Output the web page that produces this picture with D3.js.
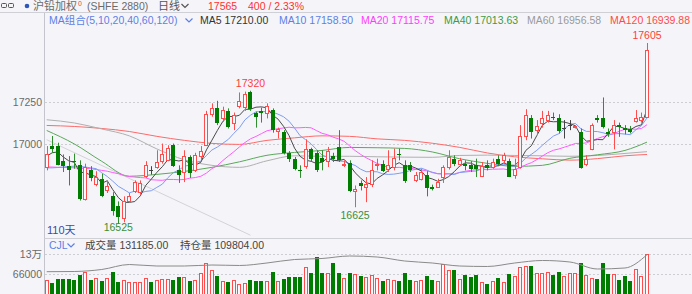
<!DOCTYPE html>
<html>
<head>
<meta charset="utf-8">
<script src="https://cdn.jsdelivr.net/npm/d3@7"></script>
<style>
body { margin: 0; background: #f5f5f9; }
text { font-family: "Liberation Sans", "Noto Sans CJK SC", sans-serif; }
</style>
</head>
<body>
<div id="chart"></div>
<script>
// daily candles, 110 days
var opens = [16865,16990,16990,16900,16870,16900,16880,16675,16845,16765,16795,16725,16690,16635,16560,16665,16720,16715,16810,16845,
  16865,16900,16905,16995,16850,16835,16925,16845,16930,16995,17180,17220,17160,17200,17125,17230,17225,17310,17185,17200,
  17185,17205,17080,17075,16950,16915,16850,16870,16970,16950,16920,16900,16930,16985,16875,16890,16720,16770,16745,16765,
  16875,16885,16855,16865,16940,16880,16875,16785,16795,16820,16745,16745,16805,16865,16910,16885,16885,16875,16875,16810,
  16875,16865,16910,16905,16900,16820,16865,17050,17160,17085,17125,17145,17165,17160,17095,17115,17105,17075,16885,16975,
  17155,17160,17075,17075,17115,17095,17090,17140,17145,17165];
var highs = [16990,17050,17010,16940,16930,16945,16905,16885,16870,16840,16825,16785,16715,16660,16690,16710,16785,16785,16900,16870,
  16965,17005,16995,17005,16875,16965,16935,16950,16990,17200,17245,17260,17225,17215,17190,17310,17315,17320,17195,17220,
  17245,17215,17100,17085,16960,16925,16875,17030,16980,16965,16965,16985,16950,17085,16905,16905,16755,16785,16805,16905,
  16915,16905,16965,16975,16975,16905,16895,16835,16855,16840,16760,16795,16875,16965,16935,16920,16905,16900,16915,16895,
  16905,16915,16935,16950,16915,16915,17115,17210,17175,17145,17200,17200,17190,17180,17145,17145,17115,17095,16935,17125,
  17175,17280,17095,17145,17130,17115,17110,17205,17190,17605];
var lows = [16845,16950,16875,16835,16755,16855,16665,16665,16780,16750,16685,16710,16575,16525,16535,16650,16710,16700,16800,16820,
  16855,16885,16900,16865,16770,16775,16800,16835,16905,16990,17165,17115,17135,17095,17085,17215,17200,17200,17100,17130,
  17155,17070,17035,16940,16895,16845,16800,16855,16895,16835,16845,16865,16895,16895,16865,16715,16625,16725,16655,16745,
  16845,16835,16835,16845,16905,16770,16835,16775,16785,16690,16725,16740,16770,16850,16870,16870,16845,16835,16805,16805,
  16845,16855,16870,16885,16805,16795,16855,17025,17035,17055,17100,17130,17145,17065,17035,17085,17095,16855,16870,16965,
  17130,17095,17045,16970,17045,17060,17065,17130,17130,17160];
var closes = [16940,16970,16880,16870,16850,16895,16675,16865,16800,16805,16695,16750,16600,16565,16660,16695,16775,16770,16880,16845,
  16895,16945,16980,16870,16815,16930,16830,16935,16960,17180,17220,17125,17205,17105,17175,17260,17300,17210,17165,17185,
  17230,17085,17090,16950,16910,16855,16840,16975,16915,16845,16895,16960,16910,16905,16885,16720,16735,16750,16765,16850,
  16885,16840,16875,16920,16935,16780,16845,16815,16835,16740,16735,16775,16865,16925,16885,16905,16870,16855,16855,16870,
  16860,16895,16885,16935,16805,16855,17050,17175,17075,17110,17160,17175,17155,17080,17095,17115,17110,16860,16915,17115,
  17145,17105,17060,17115,17105,17085,17075,17155,17165,17565];
var volumes = [48000,39500,51200,51200,50100,48000,64000,72500,48000,53300,45900,53300,74700,40500,48000,42700,42700,40500,53300,42700,
  48000,50100,50100,48000,58700,58700,45900,48000,71500,103500,80000,60800,45900,40500,48000,35200,39500,48000,45900,45900,
  45900,72500,45900,50100,58700,58700,58700,88500,69300,122700,69300,69300,101300,69300,53300,71500,66100,60800,56500,64000,
  53300,45900,50100,48000,45900,69300,48000,45900,48000,61900,48000,45900,98100,80000,80000,50100,64000,56500,64000,40500,
  35200,45900,55500,40500,66100,61900,90700,92800,92800,69300,69300,74700,64000,72500,61900,69300,69300,101300,64000,55500,
  50100,101300,66100,66100,48000,61900,44800,82100,61900,131185];

// first days of the short averages (window starts before the visible range)
var ma5Lead = [16930,16950,16955,16925];
var ma10Lead = [16860,16860,16862,16865,16868,16870,16868,16865,16860];
var ma20Lead = [16865,16865,16863,16863,16862,16860,16858,16857,16855,16850,16845,16840,16832,16825,16815,16808,16805,16802,16800];

// long averages and open interest, read every 5 days
var sampleIdx = [0,5,10,15,20,25,30,35,40,45,50,55,60,65,70,75,80,85,90,95,100,105,109];
var ma40 = [17083,17003,16899,16810,16821,16839,16863,16896,16935,16952,16964,16982,16980,16976,16955,16914,16887,16869,16875,16917,16938,16964,17013.63];
var ma60 = [17147,17128,17092,17051,16973,16908,16875,16863,16902,16932,16929,16929,16926,16924,16923,16934,16936,16934,16932,16929,16934,16946,16956.58];
var ma120 = [17113,17107,17095,17077,17048,17024,17006,17000,17024,17039,17051,17048,17033,17024,17007,16982,16949,16926,16914,16906,16915,16932,16939.88];
var openInterest = [93010,93210,95190,100120,98640,98640,99630,99140,101610,105060,106050,108520,107530,103580,101610,98640,98150,101610,104080,102590,95680,96670,109804];

// drawn trend line (day index, price)
var trendIdx = [0, 37];
var trendPrice = [17028, 16458];

var priceTicks = [17000, 17250];
var volTicks = [66000, 130000];
var volTickLabels = ["66000", "13万"];
var peakIdx = [37, 109];
var troughIdx = [13, 56];

var maNames = ["MA5", "MA10", "MA20", "MA40", "MA60", "MA120"];
var maLast = ["17210.00", "17158.50", "17115.75", "17013.63", "16956.58", "16939.88"];
var maColors = ["#333333", "#5d7fe6", "#ff3cff", "#3f9a3f", "#9a9a9a", "#ff4a4a"];
var maLineColors = ["#4a4a4a", "#7d9cf2", "#ff5cff", "#5aa85a", "#b0b0b0", "#ff6a6a"];
var maLegendX = [200, 279, 361, 444, 527, 610];

const width = 692, height = 294;
const n = closes.length;
const RED = "#ff4d4d", GREEN = "#007d00", BG = "#f5f5f9";

var svg = d3.select("#chart").append("svg")
  .attr("width", width)
  .attr("height", height);

svg.append("rect").attr("width", width).attr("height", height).attr("fill", BG);

var x = d3.scaleLinear().domain([0, n - 1]).range([46.7, 647]);
var y = d3.scaleLinear().domain([d3.min(lows), d3.max(highs)]).range([224, 43]);
var yv = d3.scaleLinear().domain([0, d3.max(volumes)]).range([295, 254]);
var yoi = d3.scaleLinear().domain([70000, 110000]).range([295, 254.5]);

var candles = d3.range(n).map(function(i) {
  return {i: i, o: opens[i], h: highs[i], l: lows[i], c: closes[i], v: volumes[i]};
});

// frame lines
svg.append("line").attr("x1", 0).attr("x2", width).attr("y1", 12.5).attr("y2", 12.5).attr("stroke", "#cfcfd6");
svg.append("line").attr("x1", 44.5).attr("x2", 44.5).attr("y1", 13).attr("y2", height).attr("stroke", "#c4c4cc");
svg.append("line").attr("x1", 44.5).attr("x2", width).attr("y1", 238.5).attr("y2", 238.5).attr("stroke", "#cfcfd6");

// grid
svg.selectAll("line.pgrid").data(priceTicks).enter().append("line")
  .attr("x1", 45).attr("x2", width)
  .attr("y1", d => Math.round(y(d)) + 0.5).attr("y2", d => Math.round(y(d)) + 0.5)
  .attr("stroke", "#cdcdd4").attr("stroke-dasharray", "2,2");
svg.selectAll("line.vgrid").data(volTicks).enter().append("line")
  .attr("x1", 45).attr("x2", width)
  .attr("y1", d => Math.round(yv(d)) + 0.5).attr("y2", d => Math.round(yv(d)) + 0.5)
  .attr("stroke", "#cdcdd4").attr("stroke-dasharray", "2,2");

// axes labels
var yAxis = svg.append("g")
  .attr("transform", "translate(42,0)")
  .call(d3.axisLeft(y).tickValues(priceTicks).tickSize(0).tickPadding(0).tickFormat(d3.format("d")));
yAxis.select(".domain").remove();
yAxis.selectAll("text").attr("fill", "#6a6a6a").style("font-size", "10.5px").style("font-family", "Liberation Sans");

var vAxis = svg.append("g")
  .attr("transform", "translate(42,0)")
  .call(d3.axisLeft(yv).tickValues(volTicks).tickSize(0).tickPadding(0).tickFormat((d, k) => volTickLabels[k]));
vAxis.select(".domain").remove();
vAxis.selectAll("text").attr("fill", "#6a6a6a").style("font-size", "10.5px").style("font-family", "Liberation Sans, Noto Sans CJK SC");

// clip for main panel
svg.append("clipPath").attr("id", "mainClip")
  .append("rect").attr("x", 45).attr("y", 13).attr("width", width - 45).attr("height", 225);

var main = svg.append("g").attr("clip-path", "url(#mainClip)");

// trend line
main.append("line")
  .attr("x1", x(trendIdx[0])).attr("y1", y(trendPrice[0]))
  .attr("x2", x(trendIdx[1])).attr("y2", y(trendPrice[1]))
  .attr("stroke", "#d4d4d8").attr("stroke-width", 1);

// moving averages
function movingAvg(lead, period) {
  return d3.range(n).map(function(i) {
    if (i < period - 1) return lead[i];
    return d3.mean(closes.slice(i - period + 1, i + 1));
  });
}
var ma5 = movingAvg(ma5Lead, 5);
var ma10 = movingAvg(ma10Lead, 10);
var ma20 = movingAvg(ma20Lead, 20);

var line = d3.line().x(d => x(d[0])).y(d => y(d[1]));
var smooth = d3.line().x(d => x(d[0])).y(d => y(d[1])).curve(d3.curveMonotoneX);

[[ma120, 5], [ma60, 4], [ma40, 3]].forEach(function(m) {
  main.append("path")
    .datum(sampleIdx.map((i, k) => [i, m[0][k]]))
    .attr("d", smooth)
    .attr("fill", "none")
    .attr("stroke", maLineColors[m[1]]);
});
[[ma20, 2], [ma10, 1], [ma5, 0]].forEach(function(m) {
  main.append("path")
    .datum(m[0].map((v, i) => [i, v]))
    .attr("d", line)
    .attr("fill", "none")
    .attr("stroke", maLineColors[m[1]]);
});

// candles
function cx(d) { return Math.round(x(d.i)); }
function candleColor(d) { return d.c > d.o ? RED : (d.c < d.o ? GREEN : "#444"); }

var cg = main.selectAll("g.candle").data(candles).enter().append("g");

cg.each(function(d) {
  var g = d3.select(this);
  var px = cx(d) + 0.5;
  var col = candleColor(d);
  var top = Math.round(y(Math.max(d.o, d.c)));
  var bot = Math.round(y(Math.min(d.o, d.c)));
  if (d.c > d.o) {
    g.append("line").attr("x1", px).attr("x2", px).attr("y1", y(d.h)).attr("y2", top + 0.5).attr("stroke", col);
    g.append("line").attr("x1", px).attr("x2", px).attr("y1", bot + 0.5).attr("y2", y(d.l)).attr("stroke", col);
    g.append("rect")
      .attr("x", cx(d) - 1.5).attr("y", top + 0.5)
      .attr("width", 3).attr("height", Math.max(bot - top, 1))
      .attr("fill", "#fbfbfd").attr("stroke", col);
  } else if (d.c < d.o) {
    g.append("line").attr("x1", px).attr("x2", px).attr("y1", y(d.h)).attr("y2", y(d.l)).attr("stroke", "#2f8f2f");
    g.append("rect")
      .attr("x", cx(d) - 2).attr("y", top)
      .attr("width", 4).attr("height", Math.max(bot - top, 1))
      .attr("fill", col);
  } else {
    g.append("line").attr("x1", px).attr("x2", px).attr("y1", y(d.h)).attr("y2", y(d.l)).attr("stroke", col);
    g.append("line").attr("x1", cx(d) - 2).attr("x2", cx(d) + 2).attr("y1", top + 0.5).attr("y2", top + 0.5).attr("stroke", col);
  }
});

// high / low marks
main.selectAll("text.peak").data(peakIdx).enter().append("text")
  .attr("x", i => x(i)).attr("y", i => y(highs[i]) - 7)
  .attr("text-anchor", "middle").attr("dominant-baseline", "middle")
  .attr("fill", "#ff3c3c").style("font-size", "10.5px")
  .text(i => highs[i]);
main.selectAll("text.trough").data(troughIdx).enter().append("text")
  .attr("x", i => x(i)).attr("y", i => Math.min(y(lows[i]) + 8.5, 228.5))
  .attr("text-anchor", "middle").attr("dominant-baseline", "middle")
  .attr("fill", "#3a8f3a").style("font-size", "10.5px")
  .text(i => lows[i]);

svg.append("text").attr("x", 47).attr("y", 234).attr("fill", "#3a4aa8").style("font-size", "11px").text("110天");

// volume bars
function volUp(d) {
  if (d.c !== d.o) return d.c > d.o;
  return d.i === 0 || d.c >= closes[d.i - 1];
}
var vg = svg.selectAll("g.vol").data(candles).enter().append("g");
vg.each(function(d) {
  var g = d3.select(this);
  var top = Math.round(yv(d.v));
  if (volUp(d)) {
    g.append("rect")
      .attr("x", cx(d) - 1.5).attr("y", top + 0.5)
      .attr("width", 3).attr("height", height - top + 2)
      .attr("fill", "#fbfbfd").attr("stroke", RED);
  } else {
    g.append("rect")
      .attr("x", cx(d) - 2).attr("y", top)
      .attr("width", 4).attr("height", height - top + 2)
      .attr("fill", GREEN);
  }
});

// open interest line
svg.append("path")
  .datum(sampleIdx.map((i, k) => [i, openInterest[k]]))
  .attr("d", d3.line().x(d => x(d[0])).y(d => yoi(d[1])).curve(d3.curveMonotoneX))
  .attr("fill", "none")
  .attr("stroke", "#8a8a8a");

// header row 1
function chevron(cx0, cy0, color) {
  svg.append("path")
    .attr("d", "M" + (cx0 - 3.5) + "," + (cy0 - 2) + "L" + cx0 + "," + (cy0 + 1.5) + "L" + (cx0 + 3.5) + "," + (cy0 - 2))
    .attr("fill", "none").attr("stroke", color).attr("stroke-width", 1.2);
}
svg.append("rect").attr("x", 1.5).attr("y", 3.5).attr("width", 5).attr("height", 4).attr("rx", 1)
  .attr("fill", "none").attr("stroke", "#555");
svg.append("rect").attr("x", 8.5).attr("y", 3.5).attr("width", 5).attr("height", 4).attr("rx", 1)
  .attr("fill", "none").attr("stroke", "#555");
svg.append("circle").attr("cx", 27).attr("cy", 6).attr("r", 2.3).attr("fill", "#2c56b8");
svg.append("text").attr("x", 33).attr("y", 10).attr("fill", "#6a6a6a").style("font-size", "11px").text("沪铅加权");
svg.append("text").attr("x", 78).attr("y", 6).attr("fill", "#ff4040").style("font-size", "7px").text("0");
svg.append("text").attr("x", 87).attr("y", 10).attr("fill", "#6a6a6a").style("font-size", "10.5px").text("(SHFE  2880)");
svg.append("text").attr("x", 158).attr("y", 10).attr("fill", "#555").style("font-size", "11px").text("日线");
chevron(185, 6, "#555");
svg.append("text").attr("x", 208).attr("y", 10).attr("fill", "#ff3030").style("font-size", "10.5px").text("17565");
svg.append("text").attr("x", 248).attr("y", 10).attr("fill", "#ff3030").style("font-size", "10.5px").text("400 / 2.33%");

// header row 2: MA legend
svg.append("text").attr("x", 49).attr("y", 24).attr("fill", "#5d7fe6").style("font-size", "10.5px").text("MA组合(5,10,20,40,60,120)");
chevron(189, 20.5, "#5d7fe6");
svg.selectAll("text.maleg").data(maNames).enter().append("text")
  .attr("x", (d, k) => maLegendX[k]).attr("y", 24)
  .attr("fill", (d, k) => maColors[k])
  .style("font-size", "10.5px")
  .text((d, k) => d + " " + maLast[k]);

// volume panel header
svg.append("text").attr("x", 49).attr("y", 249).attr("fill", "#5d7fe6").style("font-size", "10.5px").text("CJL");
chevron(71, 245.5, "#5d7fe6");
svg.append("text").attr("x", 85).attr("y", 249).attr("fill", "#444").style("font-size", "10.5px").text("成交量 131185.00");
svg.append("text").attr("x", 180).attr("y", 249).attr("fill", "#444").style("font-size", "10.5px").text("持仓量 109804.00");
</script>
</body>
</html>
